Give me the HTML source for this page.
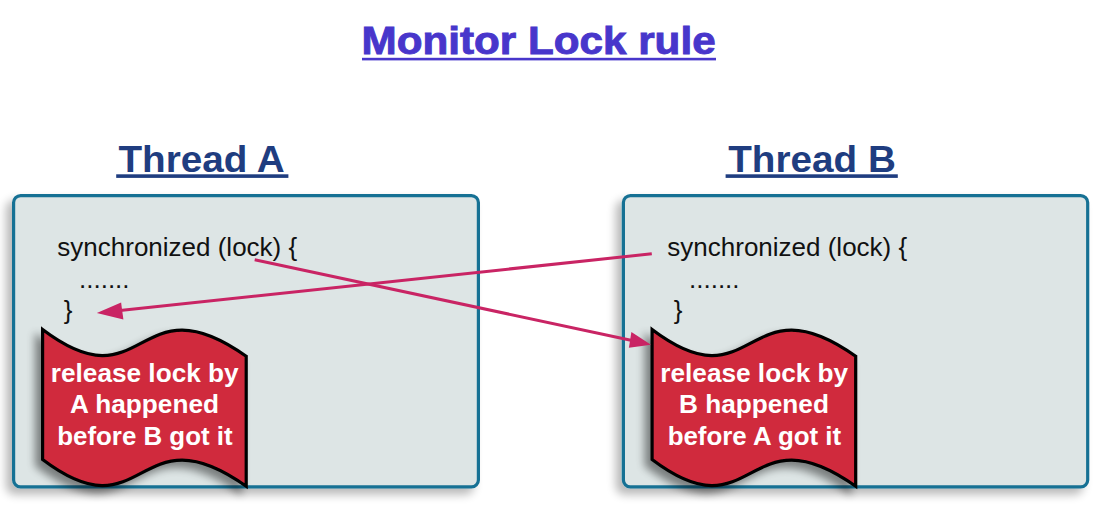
<!DOCTYPE html>
<html><head><meta charset="utf-8"><style>
html,body{margin:0;padding:0;background:#fff;width:1105px;height:510px;overflow:hidden}
svg{position:absolute;left:0;top:0}
text{font-family:"Liberation Sans",sans-serif}
</style></head><body>
<svg width="1105" height="510" viewBox="0 0 1105 510">
<defs>
<filter id="sh" x="-15%" y="-15%" width="135%" height="140%">
<feGaussianBlur in="SourceAlpha" stdDeviation="5"/>
<feOffset dx="-6" dy="6" result="b"/>
<feComponentTransfer><feFuncA type="linear" slope="0.28"/></feComponentTransfer>
<feMerge><feMergeNode/><feMergeNode in="SourceGraphic"/></feMerge>
</filter>
<filter id="fsh" x="-15%" y="-15%" width="135%" height="140%">
<feGaussianBlur in="SourceAlpha" stdDeviation="4"/>
<feOffset dx="-6" dy="6" result="b"/>
<feComponentTransfer><feFuncA type="linear" slope="0.45"/></feComponentTransfer>
<feMerge><feMergeNode/><feMergeNode in="SourceGraphic"/></feMerge>
</filter>
<path id="flag" d="M41.9 329 C145 407 135.3 277.6 245.5 355.7 L245.5 485.7 C135.3 407.6 145 537 41.9 459 Z"/>
</defs>
<!-- title -->
<text transform="translate(361.5,53.6) scale(1.111,1)" font-size="38" font-weight="bold" fill="#4836cb" stroke="#4836cb" stroke-width="0.9">Monitor Lock rule</text>
<rect x="362" y="57.8" width="354" height="2.6" fill="#4836cb"/>
<!-- thread titles -->
<text transform="translate(118.4,171.8) scale(1.032,1)" font-size="37.5" font-weight="bold" fill="#1f3d80">Thread A</text>
<rect x="116.2" y="174.3" width="172.2" height="3.6" fill="#1f3d80"/>
<text transform="translate(728.2,171.8) scale(1.032,1)" font-size="37.5" font-weight="bold" fill="#1f3d80">Thread B</text>
<rect x="725.6" y="174.3" width="172.2" height="3.6" fill="#1f3d80"/>
<!-- boxes -->
<g filter="url(#sh)">
<rect x="13.6" y="195.6" width="464.8" height="291.3" rx="7" fill="#dde5e5" stroke="#187194" stroke-width="3.2"/>
</g>
<g filter="url(#sh)">
<rect x="623.4" y="195.6" width="464.3" height="291.3" rx="7" fill="#dde5e5" stroke="#187194" stroke-width="3.2"/>
</g>
<!-- code A -->
<text x="57.3" y="255.7" font-size="26" fill="#111">synchronized (lock) {</text>
<text x="79" y="287.5" font-size="26" fill="#111">.......</text>
<text x="63.8" y="319" font-size="26" fill="#111">}</text>
<!-- code B -->
<text x="667.3" y="255.7" font-size="26" fill="#111">synchronized (lock) {</text>
<text x="689" y="287.5" font-size="26" fill="#111">.......</text>
<text x="673.8" y="319" font-size="26" fill="#111">}</text>
<!-- flags -->
<g filter="url(#fsh)" transform="translate(0.7,0.5)"><use href="#flag" fill="#d02c3e" stroke="#000" stroke-width="3.2"/></g>
<g filter="url(#fsh)" transform="translate(610.2,0.5)"><use href="#flag" fill="#d02c3e" stroke="#000" stroke-width="3.2"/></g>
<g font-size="25" font-weight="bold" fill="#fff" text-anchor="middle">
<text transform="translate(144.7,381.5) scale(1.048,1)">release lock by</text>
<text transform="translate(144.5,412.8) scale(1.048,1)">A happened</text>
<text transform="translate(144.9,445.3) scale(1.036,1)">before B got it</text>
<text transform="translate(754.2,381.5) scale(1.048,1)">release lock by</text>
<text transform="translate(754,412.8) scale(1.048,1)">B happened</text>
<text transform="translate(754.4,445.3) scale(1.036,1)">before A got it</text>
</g>
<!-- arrows -->
<g stroke="#c92464" stroke-width="3" fill="#c92464">
<line x1="254.7" y1="259.7" x2="632" y2="340.5"/>
<polygon stroke="none" points="651,344.8 631.4,332 628.9,347.7"/>
<line x1="651.8" y1="253.8" x2="120" y2="310.5"/>
<polygon stroke="none" points="96.8,313.1 121.1,302.5 123.4,319.4"/>
</g>
</svg>
</body></html>
